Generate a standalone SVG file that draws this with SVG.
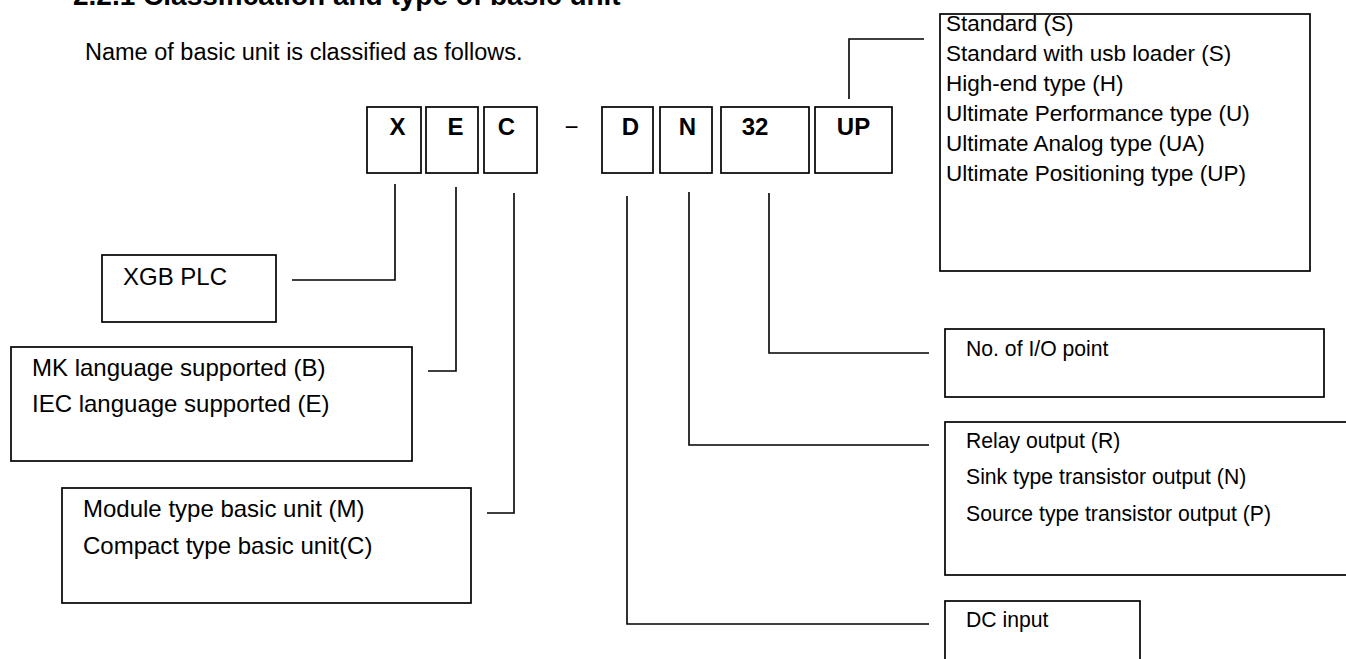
<svg xmlns="http://www.w3.org/2000/svg" width="1346" height="659" viewBox="0 0 1346 659">
<style>
  .box { fill: #fff; stroke: #000; stroke-width: 1.7; }
  .conn { fill: none; stroke: #000; stroke-width: 1.6; }
  text { font-family: "Liberation Sans", Arial, sans-serif; fill: #000; }
  .code { font-size: 24px; font-weight: bold; text-anchor: middle; }
  .lbl { font-size: 24px; }
  .rlbl { font-size: 21.2px; }
  .ulbl { font-size: 22.5px; }
</style>
<rect x="0" y="0" width="1346" height="659" fill="#fff"/>
<text x="73" y="5" font-size="28" font-weight="bold">2.2.1 Classification and type of basic unit</text>
<text x="85" y="60" font-size="23.5">Name of basic unit is classified as follows.</text>

<g id="code">
  <g id="code-X"><rect class="box" x="367" y="107" width="54" height="66"/><text class="code" x="397.5" y="135">X</text></g>
  <g id="code-E"><rect class="box" x="426" y="107" width="52" height="66"/><text class="code" x="455.5" y="135">E</text></g>
  <g id="code-C"><rect class="box" x="484" y="107" width="53" height="66"/><text class="code" x="506.5" y="135">C</text></g>
  <text x="571.5" y="135" font-size="24" text-anchor="middle">−</text>
  <g id="code-D"><rect class="box" x="602" y="107" width="51" height="66"/><text class="code" x="630.5" y="135">D</text></g>
  <g id="code-N"><rect class="box" x="660" y="107" width="52" height="66"/><text class="code" x="687.5" y="135">N</text></g>
  <g id="code-32"><rect class="box" x="721" y="107" width="88" height="66"/><text class="code" x="755" y="135">32</text></g>
  <g id="code-UP"><rect class="box" x="815" y="107" width="77" height="66"/><text class="code" x="853.5" y="135">UP</text></g>
</g>

<g id="connectors">
  <path class="conn" d="M395 184 V280 H292"/>
  <path class="conn" d="M456 187 V371 H428"/>
  <path class="conn" d="M514 193 V513 H487"/>
  <path class="conn" d="M627 196 V624 H929"/>
  <path class="conn" d="M689 192 V445 H929"/>
  <path class="conn" d="M769 193 V353 H929"/>
  <path class="conn" d="M849 99 V39 H924"/>
</g>

<g id="node-type">
  <rect class="box" x="940" y="14" width="370" height="257"/>
  <text class="ulbl" x="946" y="31">Standard (S)</text>
  <text class="ulbl" x="946" y="61">Standard with usb loader (S)</text>
  <text class="ulbl" x="946" y="91">High-end type (H)</text>
  <text class="ulbl" x="946" y="121">Ultimate Performance type (U)</text>
  <text class="ulbl" x="946" y="151">Ultimate Analog type (UA)</text>
  <text class="ulbl" x="946" y="181">Ultimate Positioning type (UP)</text>
</g>

<g id="node-xgb">
  <rect class="box" x="102" y="255" width="174" height="67"/>
  <text class="lbl" x="123" y="285">XGB PLC</text>
</g>

<g id="node-lang">
  <rect class="box" x="11" y="347" width="401" height="114"/>
  <text class="lbl" x="32" y="376">MK language supported (B)</text>
  <text class="lbl" x="32" y="412">IEC language supported (E)</text>
</g>

<g id="node-unit">
  <rect class="box" x="62" y="488" width="409" height="115"/>
  <text class="lbl" x="83" y="517">Module type basic unit (M)</text>
  <text class="lbl" x="83" y="554">Compact type basic unit(C)</text>
</g>

<g id="node-io">
  <rect class="box" x="945" y="329" width="379" height="68"/>
  <text class="rlbl" x="966" y="356">No. of I/O point</text>
</g>

<g id="node-output">
  <rect class="box" x="945" y="422" width="410" height="153"/>
  <text class="rlbl" x="966" y="448">Relay output (R)</text>
  <text class="rlbl" x="966" y="484">Sink type transistor output (N)</text>
  <text class="rlbl" x="966" y="521">Source type transistor output (P)</text>
</g>

<g id="node-input">
  <rect class="box" x="945" y="601" width="195" height="70"/>
  <text class="rlbl" x="966" y="627">DC input</text>
</g>
</svg>
